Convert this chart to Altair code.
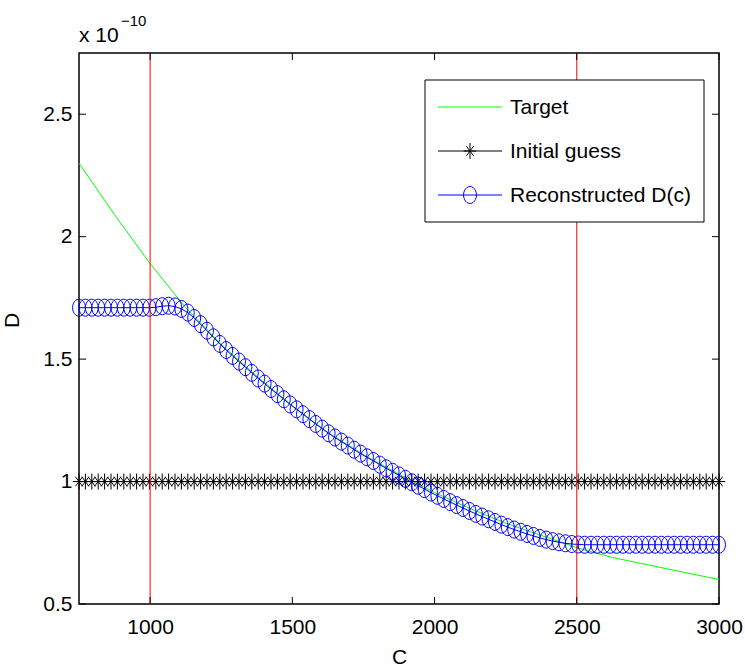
import math
import numpy as np
import pandas as pd
import altair as alt

# ---------------- data (D values in units of 1e-10) ----------------
c_target = [750, 875, 1000, 1125, 1250, 1375, 1500, 1625, 1750, 1875,
            2000, 2125, 2250, 2375, 2500, 2625, 2750, 2875, 3000]
d_target = [2.30, 2.09, 1.89, 1.71, 1.56, 1.43, 1.31, 1.20, 1.11, 1.03,
            0.955, 0.89, 0.83, 0.78, 0.73, 0.69, 0.66, 0.63, 0.60]

c_grid = list(np.linspace(750, 3000, 101))
d_initial = [1.0] * 101
d_recon = ([1.71] * 12 +
           [1.712, 1.716, 1.718, 1.715, 1.705, 1.69, 1.668, 1.643, 1.616, 1.589,
            1.562, 1.537, 1.513, 1.49, 1.467, 1.444, 1.421, 1.4, 1.378, 1.357,
            1.336, 1.315, 1.295, 1.275, 1.255, 1.235, 1.216, 1.197, 1.18, 1.163,
            1.147, 1.13, 1.114, 1.099, 1.084, 1.069, 1.054, 1.04, 1.025, 1.011,
            0.997, 0.983, 0.969, 0.955, 0.942, 0.929, 0.916, 0.904, 0.892, 0.88,
            0.868, 0.857, 0.846, 0.835, 0.824, 0.814, 0.804, 0.795, 0.786, 0.778,
            0.77, 0.763, 0.757, 0.752, 0.748, 0.745, 0.743] +
           [0.742] * 22)

boundaries = [1000, 2500]
x_ticks = [1000, 1500, 2000, 2500, 3000]
y_ticks = [0.5, 1.0, 1.5, 2.0, 2.5]
series_names = ["Target", "Initial guess", "Reconstructed D(c)"]
series_colors = ["#00ff00", "#000000", "#0000ff"]

# ---------------- styling ----------------
W, H = 640, 551
FONT = "Liberation Sans"
FS = 21

ellipse = "M" + "L".join(
    f"{0.76 * math.sin(math.radians(a)):.3f},{-math.cos(math.radians(a)):.3f}"
    for a in range(0, 360, 15)) + "Z"
star = "M0,-1L0,1M-0.78,0L0.78,0M-0.45,-0.6L0.45,0.6M-0.45,0.6L0.45,-0.6"

xs = alt.Scale(domain=[750, 3000], nice=False, zero=False)
ys = alt.Scale(domain=[0.5, 2.75], nice=False, zero=False)

x_axis = alt.Axis(values=x_ticks, format="d", ticks=False, tickSize=0, domain=False,
                  grid=False, labelFlush=False, labelOverlap=False)
y_axis = alt.Axis(values=y_ticks, format="~g", ticks=False, tickSize=0, domain=False,
                  grid=False, labelOverlap=False)

df_t = pd.DataFrame({"c": c_target, "d": d_target})
df_i = pd.DataFrame({"c": c_grid, "d": d_initial})
df_r = pd.DataFrame({"c": c_grid, "d": d_recon})
df_b = pd.DataFrame({"c": boundaries})
df_xt = pd.DataFrame({"c": x_ticks})
df_yt = pd.DataFrame({"d": y_ticks})
one = pd.DataFrame({"a": [0]})


def X():
    return alt.X("c:Q", scale=xs, title="C", axis=x_axis)


def Y():
    return alt.Y("d:Q", scale=ys, title="D", axis=y_axis)


target = alt.Chart(df_t).mark_line(color=series_colors[0], strokeWidth=1).encode(x=X(), y=Y())
init_line = alt.Chart(df_i).mark_line(color="black", strokeWidth=1).encode(x=X(), y=Y())
init_pts = alt.Chart(df_i).mark_point(shape=star, size=256, filled=False,
                                      color="black", strokeWidth=1, opacity=1).encode(x=X(), y=Y())
rec_line = alt.Chart(df_r).mark_line(color="#0000ff", strokeWidth=1).encode(x=X(), y=Y())
rec_pts = alt.Chart(df_r).mark_point(shape=ellipse, size=289, filled=False,
                                     color="#0000ff", strokeWidth=1, opacity=1).encode(x=X(), y=Y())
red = alt.Chart(df_b).mark_rule(color="#ff0000", strokeWidth=1).encode(x=X())

# inward ticks on all four sides (MATLAB box style)
tb = alt.Chart(df_xt).mark_rule(color="black", strokeWidth=1).encode(
    x=X(), y=alt.value(H), y2=alt.value(H - 7))
tt = alt.Chart(df_xt).mark_rule(color="black", strokeWidth=1).encode(
    x=X(), y=alt.value(0), y2=alt.value(7))
tl = alt.Chart(df_yt).mark_rule(color="black", strokeWidth=1).encode(
    y=Y(), x=alt.value(0), x2=alt.value(7))
tr = alt.Chart(df_yt).mark_rule(color="black", strokeWidth=1).encode(
    y=Y(), x=alt.value(W), x2=alt.value(W - 7))

# exponent annotation
exp_base = alt.Chart(one).mark_text(align="left", baseline="alphabetic", font=FONT,
                                    fontSize=FS, color="black").encode(
    x=alt.value(0), y=alt.value(-11), text=alt.value("x 10"))
exp_sup = alt.Chart(one).mark_text(align="left", baseline="alphabetic", font=FONT,
                                   fontSize=15, color="black").encode(
    x=alt.value(42), y=alt.value(-27), text=alt.value("\u221210"))

# legend
lx0, lx1, ly0, ly1 = 346, 625, 27, 169
legend_layers = [alt.Chart(one).mark_rect(fill="white", stroke="black", strokeWidth=1).encode(
    x=alt.value(lx0), x2=alt.value(lx1), y=alt.value(ly0), y2=alt.value(ly1))]
shapes = [None, star, ellipse]
sizes = [0, 256, 289]
for k, name in enumerate(series_names):
    yy = 54 + 44 * k
    legend_layers.append(alt.Chart(one).mark_rule(color=series_colors[k], strokeWidth=1).encode(
        x=alt.value(359), x2=alt.value(423), y=alt.value(yy)))
    if shapes[k]:
        legend_layers.append(alt.Chart(one).mark_point(
            shape=shapes[k], size=sizes[k], filled=False, color=series_colors[k],
            strokeWidth=1, opacity=1).encode(x=alt.value(391), y=alt.value(yy)))
    legend_layers.append(alt.Chart(one).mark_text(
        align="left", baseline="middle", font=FONT, fontSize=FS, color="black").encode(
        x=alt.value(431), y=alt.value(yy + 1), text=alt.value(name)))

chart = alt.layer(target, init_line, init_pts, rec_line, rec_pts, red,
                  tb, tt, tl, tr, exp_base, exp_sup, *legend_layers).properties(
    width=W, height=H,
    autosize=alt.AutoSizeParams(type="none"),
    padding={"left": 79, "top": 53, "right": 26, "bottom": 66},
    background="white",
).configure_view(
    stroke="black", strokeWidth=1.5
).configure_axisX(
    labelFont=FONT, labelFontSize=FS, labelColor="black", labelPadding=12,
    titleFont=FONT, titleFontSize=FS, titleFontWeight="normal",
    titleColor="black", titleY=42, titleBaseline="top"
).configure_axisY(
    labelFont=FONT, labelFontSize=FS, labelColor="black", labelPadding=7,
    titleFont=FONT, titleFontSize=FS, titleFontWeight="normal",
    titleColor="black", titleX=-57, titleY=267
)

chart.save("out.html", embed_options={"renderer": "svg", "actions": False})
